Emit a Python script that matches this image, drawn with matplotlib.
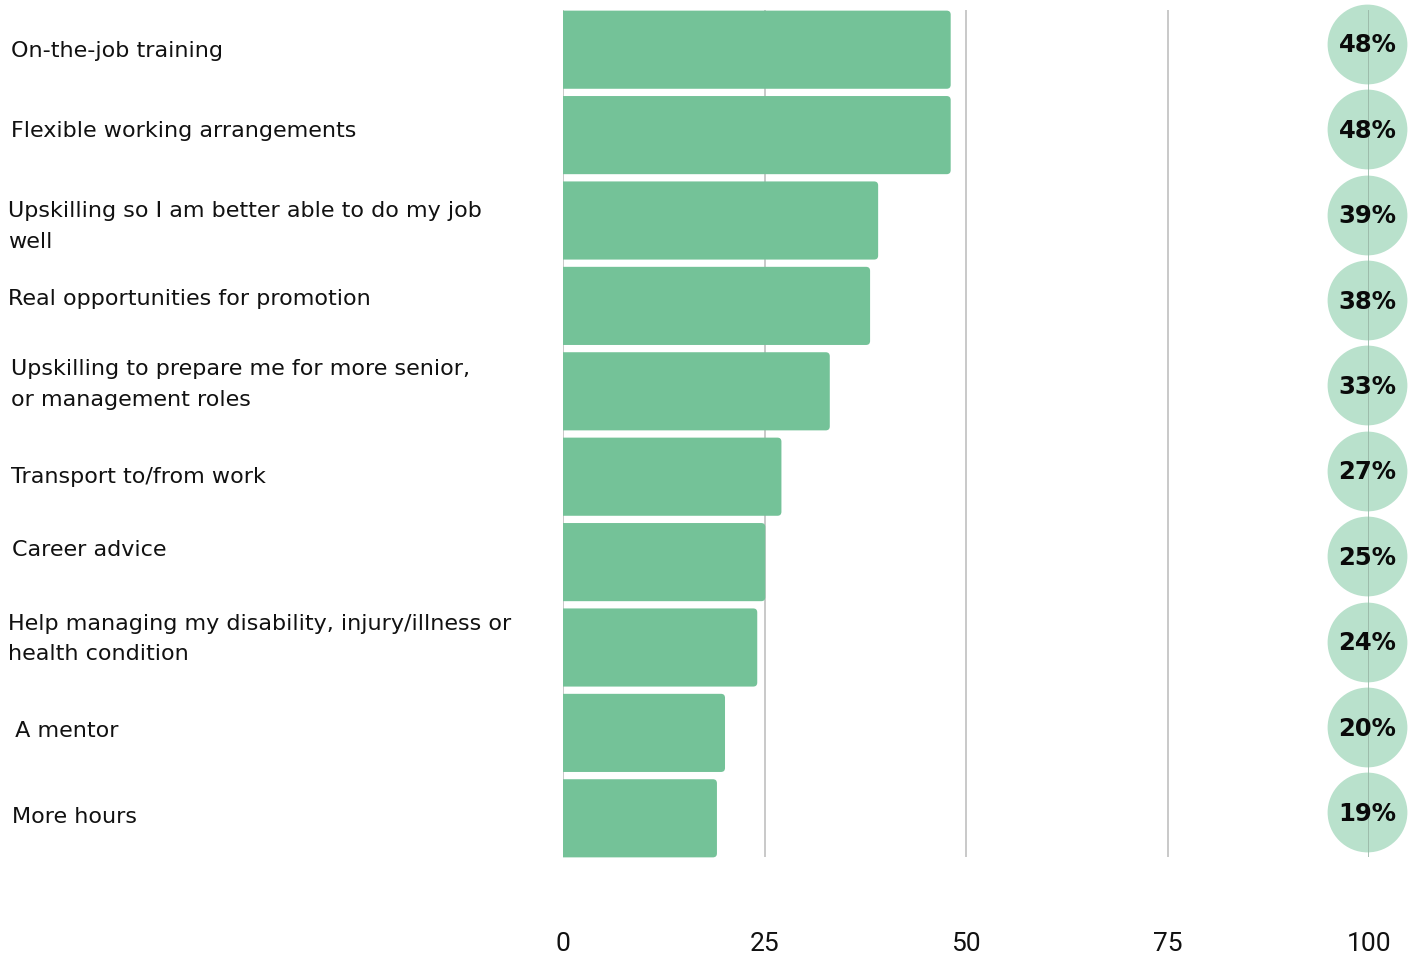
import matplotlib.pyplot as plt
import matplotlib.transforms as mtrans
from matplotlib.patches import FancyBboxPatch

# data
categories = [
    "On-the-job training",
    "Flexible working arrangements",
    "Upskilling so I am better able to do my job\nwell",
    "Real opportunities for promotion",
    "Upskilling to prepare me for more senior,\nor management roles",
    "Transport to/from work",
    "Career advice",
    "Help managing my disability, injury/illness or\nhealth condition",
    " A mentor",
    "More hours",
]
values = [48.1, 48.1, 39.1, 38.1, 33.1, 27.1, 25.1, 24.1, 20.1, 19.1]
pct_labels = ["48%", "48%", "39%", "38%", "33%", "27%", "25%", "24%", "20%", "19%"]
xticks = [0, 25, 50, 75, 100]
xtick_labels = ["0", "25", "50", "75", "100"]

# small nudges so labels sit where they do in the original
label_dx = [11, 11, 8, 8, 11, 11, 12, 8, 8, 12]  # pixels from left edge
label_dy = [0.02, -0.05, 0.07, -0.08, -0.08, 0.0, -0.14, -0.1, -0.02, -0.02]

BAR = "#74c298"
CIRCLE = "#b9e1cc"
GRID = "#c9c9c9"

plt.rcParams["font.family"] = ["DejaVu Sans"]

fig = plt.figure(figsize=(14.11, 9.55), dpi=100)
W, H = 1411, 955
# axes: x=0 at px 563, x=100 at px 1369; rows span px 7..861
ax = fig.add_axes([563 / W, 1 - 861 / H, (1369 - 563) / W, (861 - 7) / H])

n = len(categories)
y = list(range(n))
ax.set_xlim(0, 100)
ax.set_ylim(n - 0.5, -0.5)

# vertical grid lines behind the bars
ax.vlines(xticks[:-1], -0.46, n - 0.55, color=GRID, lw=1.4, zorder=0)

# bars, with slightly rounded right corners
bars = ax.barh(y, values, height=0.915, color=BAR, zorder=2)
for b in bars:
    b.set_visible(False)
    rp = FancyBboxPatch((-2, b.get_y()), b.get_width() + 2, b.get_height(),
                        boxstyle="round,pad=0,rounding_size=0.5",
                        mutation_aspect=0.094, color=BAR, lw=0, zorder=2)
    ax.add_patch(rp)

# circles on the right with percentages
ax.scatter([99.8] * n, [v - 0.07 for v in y], s=3300, color=CIRCLE,
           clip_on=False, zorder=3, linewidths=0)
ax.vlines([100], -0.46, n - 0.55, color="#98b5a5", lw=1.2, zorder=4)
for i, lab in enumerate(pct_labels):
    ax.text(99.8, i - 0.05, lab, ha="center", va="center", fontsize=17.5,
            fontweight="bold", color="#0a0a0a", zorder=5, clip_on=False)

# category labels on the left
lab_tr = mtrans.blended_transform_factory(fig.transFigure, ax.transData)
for i, cat in enumerate(categories):
    ax.text(label_dx[i] / W, i + label_dy[i], cat, transform=lab_tr,
            fontsize=16, color="#111111", ha="left", va="center",
            linespacing=1.65)

ax.set_xticks(xticks)
ax.set_xticklabels(xtick_labels, fontsize=19, family=["Roboto", "DejaVu Sans"],
                   color="#111111")
ax.tick_params(axis="x", length=0, pad=51)
ax.set_yticks([])
for s in ax.spines.values():
    s.set_visible(False)

fig.savefig("out.png", dpi=100)
